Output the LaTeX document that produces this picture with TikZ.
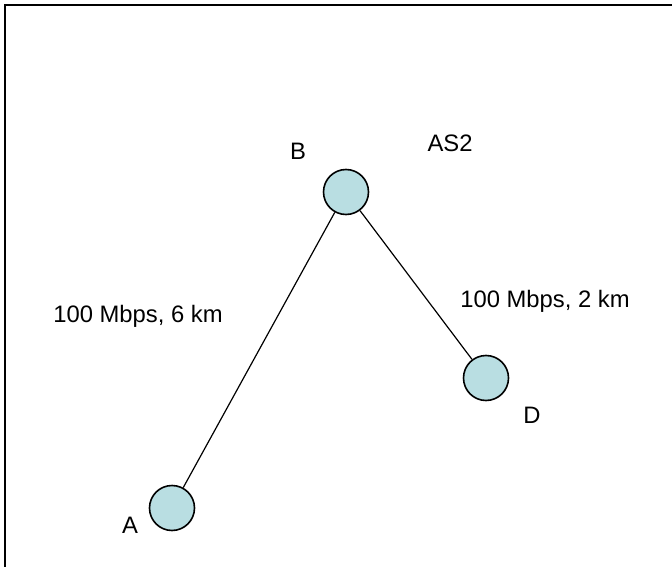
\documentclass[tikz,border=0pt]{standalone}
\usepackage{fontspec}
\setmainfont{Liberation Sans}
\definecolor{nodefill}{RGB}{185,222,226}
\begin{document}
\begin{tikzpicture}[x=1pt,y=-1pt,
  router/.style={circle, draw=black, line width=1.6pt, fill=nodefill, minimum size=45pt, inner sep=0pt},
  lbl/.style={anchor=base, inner sep=0pt, font=\fontsize{23.8}{28}\selectfont},
  link/.style={line width=1.2pt}]
\useasboundingbox (0,0) rectangle (672,567);
\draw[line width=2pt] (5,567) -- (5,5) -- (672,5);
\node[router] (B) at (346,192) {};
\node[router] (A) at (172,508) {};
\node[router] (D) at (486,378) {};
\draw[link] (A) -- (B);
\draw[link] (B) -- (D);
\node[lbl] (lB) at (298,160) {B};
\node[lbl] (lAS) at (450,151) {AS2};
\node[lbl] (lA) at (130,533) {A};
\node[lbl] (lD) at (532,423) {D};
\node[lbl] (lAB) at (138,322) {100 Mbps, 6 km};
\node[lbl] (lBD) at (545,307) {100 Mbps, 2 km};
\end{tikzpicture}
\end{document}
